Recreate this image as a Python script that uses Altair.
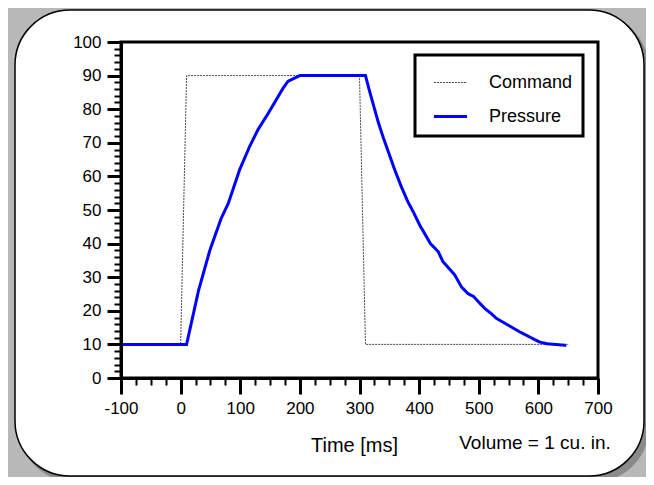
import altair as alt
import pandas as pd

# ---- data ----
series_names = ["Command", "Pressure"]
time_command = [-100, 0, 10, 300, 310, 650]
command = [10, 10, 90, 90, 10, 10]
time_pressure = [-100, 10, 30, 49, 68, 80, 99, 116, 130, 146,
                 172, 180, 200, 310, 317, 331, 340, 359, 370, 381,
                 390, 401, 419, 432, 440, 460, 471, 482, 491, 510,
                 520, 530, 569, 602, 614, 647]
pressure = [10, 10, 26, 38, 47.5, 52, 62, 69, 74, 78.5,
            86.3, 88.3, 90, 90, 85.3, 76.4, 71.5, 62, 57, 52.5,
            49.5, 45.5, 40, 37.6, 34.6, 30.6, 27.1, 25.1, 24.3, 20.7,
            19.3, 17.7, 13.7, 10.7, 10.2, 9.7]
x_ticks = list(range(-100, 701, 25))
y_ticks = list(range(0, 101, 2))
x_title = "Time [ms]"
note_text = "Volume = 1 cu. in."

rows = []
for i, (t, v) in enumerate(zip(time_command, command)):
    rows.append({"series": "Command", "t": t, "v": v, "idx": i})
for i, (t, v) in enumerate(zip(time_pressure, pressure)):
    rows.append({"series": "Pressure", "t": t, "v": v, "idx": i})
df = pd.DataFrame(rows)
one = pd.DataFrame({"k": [0]})

FONT = "Liberation Sans, Arial, sans-serif"
W, H = 477, 336

xaxis = alt.Axis(
    values=x_ticks,
    labelExpr="datum.value % 100 === 0 ? '' + datum.value : ''",
    tickSize={"condition": {"test": "datum.value % 100 === 0", "value": 16}, "value": 7},
    tickWidth={"condition": {"test": "datum.value % 100 === 0", "value": 3}, "value": 2},
    tickColor="black", domainColor="black", domainWidth=3,
    labelFont=FONT, labelFontSize=17, labelColor="black", labelPadding=6,
    labelOverlap=False, labelFlush=False, grid=False,
    title=x_title, titleFont=FONT, titleFontSize=20, titleFontWeight="normal",
    titleColor="black", titleX=233, titleY=67, titleBaseline="middle",
    zindex=1,
)
yaxis = alt.Axis(
    values=y_ticks,
    labelExpr="datum.value % 10 === 0 ? '' + datum.value : ''",
    tickSize={"condition": {"test": "datum.value % 10 === 0", "value": 14}, "value": 7},
    tickWidth={"condition": {"test": "datum.value % 10 === 0", "value": 3}, "value": 2},
    tickColor="black", domainColor="black", domainWidth=3,
    labelFont=FONT, labelFontSize=17, labelColor="black", labelPadding=6,
    labelOverlap=False, labelFlush=False, grid=False, title=None,
    zindex=1,
)

shadow = alt.Chart(one).mark_rect(cornerRadius=55, fill="#8a8a8a").encode(
    x=alt.value(-102), x2=alt.value(528), y=alt.value(-28), y2=alt.value(440)
)
card = alt.Chart(one).mark_rect(cornerRadius=55, fill="white", stroke="black", strokeWidth=1.5).encode(
    x=alt.value(-106), x2=alt.value(523), y=alt.value(-32), y2=alt.value(434)
)

lines = alt.Chart(df).mark_line(clip=False).encode(
    x=alt.X("t:Q", scale=alt.Scale(domain=[-100, 700], nice=False, zero=False), axis=xaxis),
    y=alt.Y("v:Q", scale=alt.Scale(domain=[0, 100], nice=False, zero=False), axis=yaxis),
    color=alt.Color("series:N", scale=alt.Scale(domain=series_names, range=["#4a4a4a", "#0000ff"]), title=None),
    strokeDash=alt.StrokeDash("series:N", scale=alt.Scale(domain=series_names, range=[[2, 1], [1, 0]]), title=None),
    strokeWidth=alt.StrokeWidth("series:N", scale=alt.Scale(domain=series_names, range=[1, 3]), title=None),
    order="idx:Q",
)

frame = alt.Chart(one).mark_rect(filled=False, stroke="black", strokeWidth=3).encode(
    x=alt.value(0), x2=alt.value(W), y=alt.value(0), y2=alt.value(H)
)

note = alt.Chart(one).mark_text(text=note_text, font=FONT, fontSize=19, color="black").encode(
    x=alt.value(414), y=alt.value(401)
)

chart = alt.layer(shadow, card, frame, lines, note).properties(
    width=W, height=H,
    background="#b8b8b8",
    padding={"left": 113, "top": 34, "right": 48, "bottom": 99},
    autosize=alt.AutoSizeParams(type="none"),
).configure_view(strokeWidth=0).configure_legend(
    orient="none", legendX=294, legendY=13,
    strokeColor="black", strokeWidth=3, fillColor="white", padding=10,
    symbolType="stroke", symbolSize=1100, symbolOffset=7,
    labelOffset=20, labelFontSize=18, labelFont=FONT, labelColor="black",
    rowPadding=6, zindex=1,
)

chart.save("out.html", embed_options={"renderer": "svg", "actions": False})
